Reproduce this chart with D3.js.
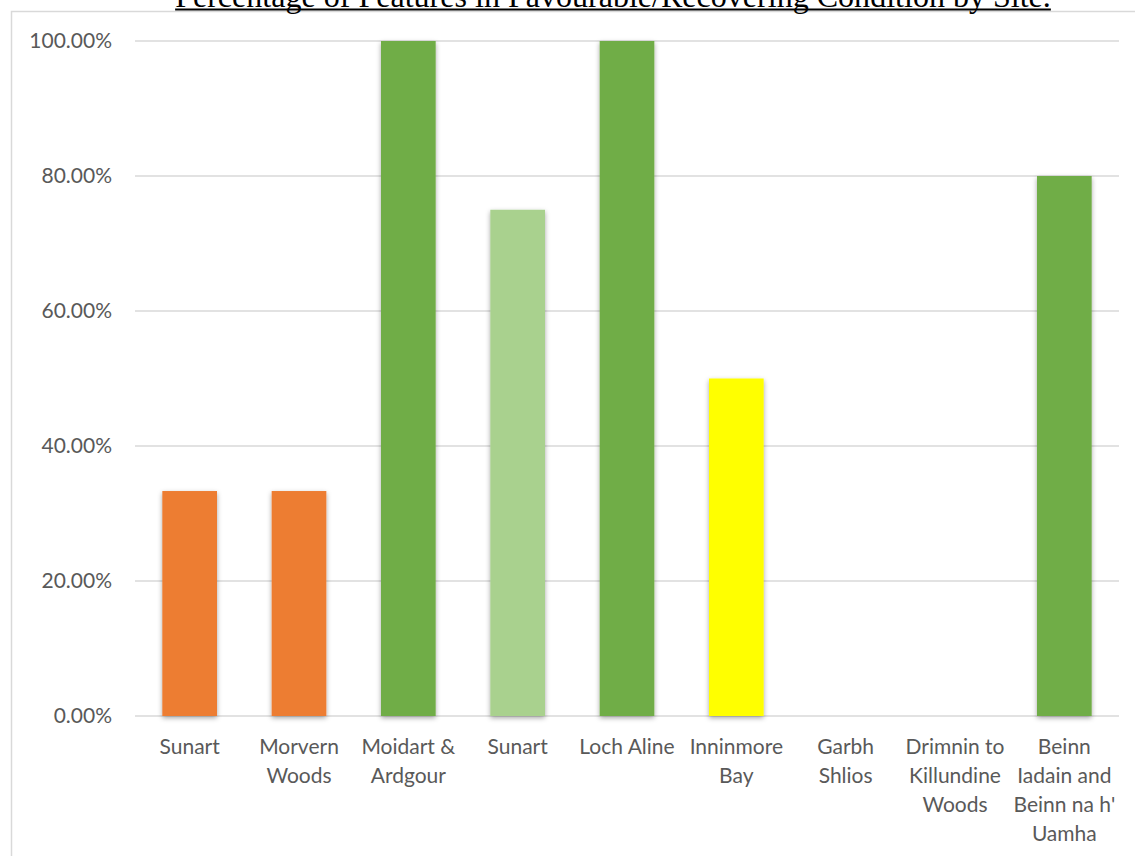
<!DOCTYPE html>
<html>
<head>
<meta charset="utf-8">
<script src="https://cdn.jsdelivr.net/npm/d3@7"></script>
<style>
  html, body { margin: 0; padding: 0; background: #fff; overflow: hidden; }
</style>
</head>
<body>
<div id="chart"></div>
<script>
// chart values
let sites = ["Sunart", "Morvern Woods", "Moidart & Ardgour", "Sunart", "Loch Aline",
             "Inninmore Bay", "Garbh Shlios", "Drimnin to Killundine Woods",
             "Beinn Iadain and Beinn na h' Uamha"];
let percentFavourable = [0.3333, 0.3333, 1.0, 0.75, 1.0, 0.5, 0, 0, 0.8];
let barColours = ["#ED7D31", "#ED7D31", "#70AD47", "#A9D18E", "#70AD47",
                  "#FFFF00", "#70AD47", "#70AD47", "#70AD47"];
let yTicks = [0, 0.2, 0.4, 0.6, 0.8, 1.0];
let chartTitle = "Percentage of Features in Favourable/Recovering Condition by Site.";

let W = 1135, H = 856;
let labelFont = "Lato, 'Open Sans', sans-serif";
let textGrey = "#595959";

var svg = d3.select("#chart").append("svg")
    .attr("width", W)
    .attr("height", H);

// drop shadow like the office chart bars
let defs = svg.append("defs");
defs.append("filter")
    .attr("id", "barShadow")
    .attr("x", "-30%").attr("y", "-10%")
    .attr("width", "160%").attr("height", "130%")
  .append("feDropShadow")
    .attr("dx", 0).attr("dy", 2)
    .attr("stdDeviation", 2.5)
    .attr("flood-color", "#000")
    .attr("flood-opacity", 0.35);

// chart frame
svg.append("rect")
    .attr("x", 11.5).attr("y", 11.5)
    .attr("width", W + 20).attr("height", H + 20)
    .attr("fill", "none")
    .attr("stroke", "#d9d9d9")
    .attr("stroke-width", 1.5);

// title (mostly cut off by the top edge)
let title = svg.append("text")
    .attr("x", 613)
    .attr("y", 7)
    .attr("text-anchor", "middle")
    .attr("font-family", "'Liberation Serif', 'Times New Roman', serif")
    .attr("font-size", 30)
    .attr("fill", "#000")
    .text(chartTitle);
let tw = title.node().getComputedTextLength();
title.attr("font-size", 30 * 876 / tw);
let tb = title.node().getBBox();
svg.append("line")
    .attr("x1", tb.x).attr("x2", tb.x + tb.width)
    .attr("y1", 9.5).attr("y2", 9.5)
    .attr("stroke", "#000")
    .attr("stroke-width", 2);

let x = d3.scaleBand()
    .domain(d3.range(sites.length))
    .range([135, 1119])
    .paddingInner(0.5)
    .paddingOuter(0.25);

let y = d3.scaleLinear()
    .domain([0, 1])
    .range([716, 41]);

// gridlines
svg.append("g")
    .selectAll("line")
    .data(yTicks)
    .join("line")
    .attr("x1", 135).attr("x2", 1119)
    .attr("y1", d => y(d)).attr("y2", d => y(d))
    .attr("stroke", "#d9d9d9")
    .attr("stroke-width", 1.3);

// y axis labels
let yAxis = d3.axisLeft(y)
    .tickValues(yTicks)
    .tickFormat(d3.format(".2%"))
    .tickSize(0)
    .tickPadding(0);
let yg = svg.append("g")
    .attr("transform", "translate(112,0)")
    .call(yAxis);
yg.select(".domain").remove();
yg.selectAll("text")
    .attr("font-family", labelFont)
    .attr("font-size", 21)
    .attr("fill", textGrey);

// bars
svg.append("g")
    .selectAll("rect")
    .data(percentFavourable)
    .join("rect")
    .attr("x", (d, i) => x(i))
    .attr("y", d => y(d))
    .attr("width", x.bandwidth())
    .attr("height", d => y(0) - y(d))
    .attr("fill", (d, i) => barColours[i])
    .attr("filter", d => d > 0 ? "url(#barShadow)" : null);

// category labels, wrapped to the category width
let xl = svg.append("g");
sites.forEach((name, i) => {
    let cx = x(i) + x.bandwidth() / 2;
    let t = xl.append("text")
        .attr("text-anchor", "middle")
        .attr("font-family", labelFont)
        .attr("font-size", 21)
        .attr("fill", textGrey);
    let words = name.split(" ");
    let lines = [];
    let cur = "";
    words.forEach(w => {
        let test = cur ? cur + " " + w : w;
        t.text(test);
        if (cur && t.node().getComputedTextLength() > x.step() - 2) {
            lines.push(cur);
            cur = w;
        } else {
            cur = test;
        }
    });
    lines.push(cur);
    t.text(null);
    lines.forEach((ln, k) => {
        t.append("tspan")
            .attr("x", cx)
            .attr("y", 747 + k * 29)
            .attr("dy", "0.35em")
            .text(ln);
    });
});
</script>
</body>
</html>
